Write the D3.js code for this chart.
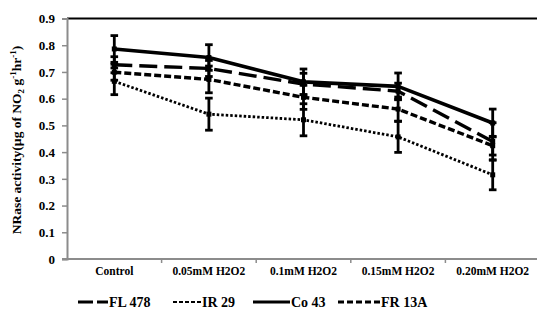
<!DOCTYPE html>
<html>
<head>
<meta charset="utf-8">
<script src="https://cdn.jsdelivr.net/npm/d3@7"></script>
<style>
  html, body { margin: 0; padding: 0; background: #fff; }
  svg { display: block; }
  text { font-family: "Liberation Serif", "Times New Roman", serif; font-weight: bold; fill: #000; }
</style>
</head>
<body>
<svg id="chart" width="537" height="321"></svg>
<script>
// Treatments along the x axis
const categories = ["Control", "0.05mM H2O2", "0.1mM H2O2", "0.15mM H2O2", "0.20mM H2O2"];
const yTicks = [0, 0.1, 0.2, 0.3, 0.4, 0.5, 0.6, 0.7, 0.8, 0.9];

// NRase activity per cultivar (mean) and its error
const seriesNames = ["FL 478", "IR 29", "Co 43", "FR 13A"];
const fl478 = [0.727, 0.713, 0.655, 0.628, 0.440];
const ir29 = [0.665, 0.542, 0.521, 0.457, 0.315];
const co43 = [0.786, 0.754, 0.663, 0.646, 0.509];
const fr13a = [0.699, 0.672, 0.605, 0.561, 0.424];
const fl478Err = [0.030, 0.030, 0.040, 0.030, 0.070];
const ir29Err = [0.050, 0.060, 0.060, 0.058, 0.056];
const co43Err = [0.050, 0.048, 0.048, 0.050, 0.052];
const fr13aErr = [0.030, 0.050, 0.045, 0.045, 0.035];

const series = [
  { name: seriesNames[0], values: fl478, err: fl478Err, dash: "18,7", width: 3.4 },
  { name: seriesNames[1], values: ir29, err: ir29Err, dash: "2.5,2", width: 2.8 },
  { name: seriesNames[2], values: co43, err: co43Err, dash: null, width: 3.6 },
  { name: seriesNames[3], values: fr13a, err: fr13aErr, dash: "7,3", width: 3.4 }
];

const svg = d3.select("#chart");
const plotLeft = 67, plotRight = 540, plotTop = 18.5, plotBottom = 259;

const x = d3.scaleBand().domain(categories).range([plotLeft, plotRight]).padding(0);
const cx = c => x(c) + x.bandwidth() / 2;
const y = d3.scaleLinear().domain([0, 0.9]).range([plotBottom, plotTop]);

// Top frame line
svg.append("line")
  .attr("x1", plotLeft).attr("x2", 537).attr("y1", plotTop).attr("y2", plotTop)
  .attr("stroke", "#000").attr("stroke-width", 2);

// Y axis
const yAxis = svg.append("g").attr("transform", `translate(${plotLeft},0)`)
  .call(d3.axisLeft(y).tickValues(yTicks).tickSize(5).tickPadding(7)
    .tickFormat(d => d === 0 ? "0" : d3.format(".1f")(d)));
yAxis.select(".domain").attr("stroke", "#8c8c8c").attr("stroke-width", 2);
yAxis.selectAll(".tick line").attr("stroke", "#8c8c8c").attr("stroke-width", 1.5);
yAxis.selectAll(".tick text").style("font-size", "13px")
  .style("font-family", "'Liberation Serif', serif").style("font-weight", "bold");

// X axis with ticks on band boundaries
svg.append("line")
  .attr("x1", plotLeft - 5).attr("x2", 537).attr("y1", plotBottom).attr("y2", plotBottom)
  .attr("stroke", "#8c8c8c").attr("stroke-width", 2);
svg.selectAll(".xtick").data(categories.slice(1)).enter().append("line")
  .attr("class", "xtick")
  .attr("x1", d => x(d)).attr("x2", d => x(d))
  .attr("y1", plotBottom).attr("y2", plotBottom + 4)
  .attr("stroke", "#8c8c8c").attr("stroke-width", 1.5);
svg.selectAll(".xlabel").data(categories).enter().append("text")
  .attr("class", "xlabel")
  .attr("x", d => cx(d)).attr("y", 275)
  .attr("text-anchor", "middle")
  .style("font-size", "11.5px")
  .text(d => d);

// Y axis title
const yt = svg.append("text")
  .attr("transform", "translate(21,140) rotate(-90)")
  .attr("text-anchor", "middle")
  .style("font-size", "13.5px");
yt.append("tspan").text("NRase activity(µg of NO");
yt.append("tspan").attr("dy", 3).style("font-size", "9px").text("2");
yt.append("tspan").attr("dy", -3).text(" g");
yt.append("tspan").attr("dy", -5).style("font-size", "9px").text("-1");
yt.append("tspan").attr("dy", 5).text("hr");
yt.append("tspan").attr("dy", -5).style("font-size", "9px").text("-1");
yt.append("tspan").attr("dy", 5).text(")");

// Error bars
const plot = svg.append("g");
series.forEach(s => {
  const g = plot.append("g");
  categories.forEach((c, i) => {
    const v = s.values[i], e = s.err[i];
    g.append("line")
      .attr("x1", cx(c)).attr("x2", cx(c))
      .attr("y1", y(v + e)).attr("y2", y(v - e))
      .attr("stroke", "#000").attr("stroke-width", 2.8);
    [v + e, v - e].forEach(b => {
      g.append("line")
        .attr("x1", cx(c) - 3.8).attr("x2", cx(c) + 3.8)
        .attr("y1", y(b)).attr("y2", y(b))
        .attr("stroke", "#000").attr("stroke-width", 2.8);
    });
  });
});

// Lines
const line = d3.line().x((d, i) => cx(categories[i])).y(d => y(d));
series.forEach(s => {
  plot.append("path")
    .attr("d", line(s.values))
    .attr("fill", "none")
    .attr("stroke", "#000")
    .attr("stroke-width", s.width)
    .attr("stroke-dasharray", s.dash)
    .attr("stroke-linejoin", "round");
  plot.selectAll(null).data(s.values).enter().append("rect")
    .attr("x", (d, i) => cx(categories[i]) - 2.5)
    .attr("y", d => y(d) - 2.5)
    .attr("width", 5).attr("height", 5)
    .attr("fill", "#000");
});

// Legend
const legendItems = [
  { s: series[0], x0: 78, x1: 108, dash: "15,4" },
  { s: series[1], x0: 173, x1: 201, dash: "4,2" },
  { s: series[2], x0: 253, x1: 290, dash: null },
  { s: series[3], x0: 338, x1: 380, dash: "6,3" }
];
const ly = 302;
legendItems.forEach(it => {
  svg.append("line")
    .attr("x1", it.x0).attr("x2", it.x1).attr("y1", ly).attr("y2", ly)
    .attr("stroke", "#000").attr("stroke-width", it.s.width - 0.6)
    .attr("stroke-dasharray", it.dash);
  svg.append("text")
    .attr("x", it.x1 + 1).attr("y", ly + 5)
    .style("font-size", "14px")
    .text(it.s.name);
});
</script>
</body>
</html>
